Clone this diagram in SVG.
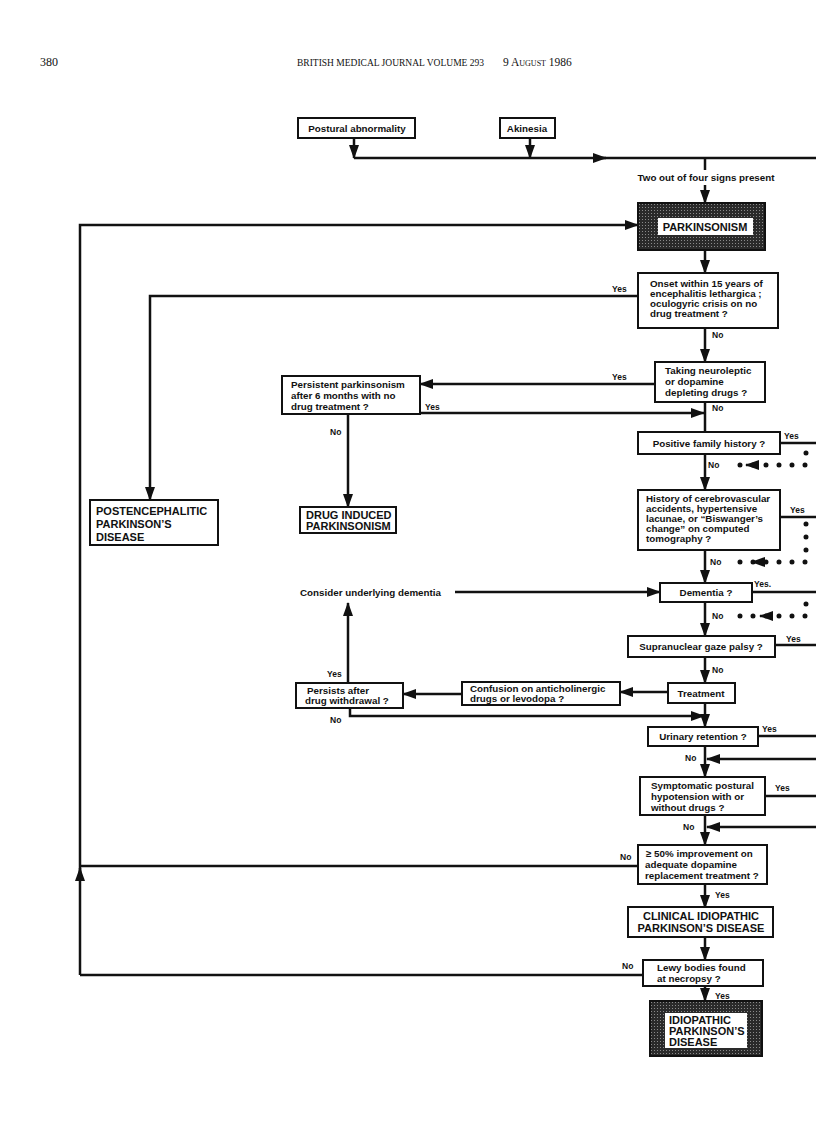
<svg xmlns="http://www.w3.org/2000/svg" width="816" height="1127" viewBox="0 0 816 1127">
<style>
.bx{fill:#fff;stroke:#111;stroke-width:2}
.t{font-family:"Liberation Sans",Arial,sans-serif;font-weight:bold;font-size:9.8px;fill:#111}
.u{font-size:11px}
.y{font-size:8.5px}
.c{text-anchor:middle}
.h{font-family:"Liberation Serif","Times New Roman",serif;fill:#111}
.ln{fill:none;stroke:#111;stroke-width:2.5}
.ar{fill:none;stroke:#111;stroke-width:2.5;marker-end:url(#ah)}
.dt{fill:none;stroke:#111;stroke-width:5;stroke-linecap:round;stroke-dasharray:0 13}
</style>
<defs>
<marker id="ah" markerUnits="userSpaceOnUse" markerWidth="14" markerHeight="10" refX="13" refY="5" orient="auto">
<path d="M0,0 L14,5 L0,10 z" fill="#111"/>
</marker>
<pattern id="hatch" width="3" height="3" patternUnits="userSpaceOnUse">
<rect width="3" height="3" fill="#2a2a2a"/>
<rect width="1" height="1" fill="#8a8a8a"/>
</pattern>
</defs>
<rect width="816" height="1127" fill="#fff"/>
<g id="header">
<text class="h" x="40" y="66" font-size="12">380</text>
<text class="h" x="297" y="66" font-size="9.5">BRITISH MEDICAL JOURNAL   VOLUME 293</text>
<text class="h" x="503" y="66" font-size="11.5" font-variant="small-caps">9 August 1986</text>
</g>
<g id="connectors">
<path class="ar" d="M354,138 V158"/>
<path class="ar" d="M530,138 V158"/>
<path class="ar" d="M354,158 H606"/>
<path class="ln" d="M600,158 H816"/>
<path class="ln" d="M705,158 V170"/>
<path class="ar" d="M705,185 V203"/>
<path class="ar" d="M80,975 V868"/>
<path class="ar" d="M80,878 V225 H638"/>
<path class="ln" d="M638,866 H80"/>
<path class="ar" d="M705,250 V273"/>
<path class="ar" d="M638,296 H150 V500"/>
<path class="ar" d="M705,328 V362"/>
<path class="ar" d="M655,384 H420"/>
<path class="ar" d="M420,413 H704"/>
<path class="ln" d="M705,402 V432"/>
<path class="ar" d="M348,414 V507"/>
<path class="ln" d="M780,443 H816"/>
<path class="ar" d="M705,454 V490"/>
<path class="dt" d="M806,453 V465 H732"/>
<path class="ar" d="M758,465 H746"/>
<path class="ln" d="M780,517 H816"/>
<path class="dt" d="M806,524 V562 H732"/>
<path class="ar" d="M764,562 H752"/>
<path class="ar" d="M705,550 V583"/>
<path class="ar" d="M455,592 H660"/>
<path class="ln" d="M752,592 H816"/>
<path class="ar" d="M705,602 V636"/>
<path class="dt" d="M806,604 V616 H732"/>
<path class="ar" d="M772,616 H760"/>
<path class="ln" d="M775,645 H816"/>
<path class="ar" d="M705,657 V683"/>
<path class="ar" d="M668,692 H620"/>
<path class="ar" d="M462,694 H403"/>
<path class="ar" d="M348,683 V603"/>
<path class="ar" d="M350,708 V716 H704"/>
<path class="ar" d="M705,703 V727"/>
<path class="ln" d="M757,736 H816"/>
<path class="ar" d="M705,746 V777"/>
<path class="ar" d="M816,759 H707"/>
<path class="ln" d="M765,796 H816"/>
<path class="ar" d="M705,815 V845"/>
<path class="ar" d="M816,827 H707"/>
<path class="ar" d="M705,884 V908"/>
<path class="ar" d="M705,937 V960"/>
<path class="ln" d="M643,975 H80"/>
<path class="ar" d="M705,986 V1001"/>
</g>
<g id="labels">
<text class="t c" x="706" y="181" font-size="10.3">Two out of four signs present</text>
<text class="t y" x="612" y="292">Yes</text>
<text class="t y" x="712" y="338">No</text>
<text class="t y" x="612" y="380">Yes</text>
<text class="t y" x="425" y="410">Yes</text>
<text class="t y" x="712" y="411">No</text>
<text class="t y" x="330" y="435">No</text>
<text class="t y" x="784" y="439">Yes</text>
<text class="t y" x="708" y="468">No</text>
<text class="t y" x="790" y="513">Yes</text>
<text class="t y" x="710" y="565">No</text>
<text class="t y" x="754" y="587">Yes.</text>
<text class="t y" x="712" y="619">No</text>
<text class="t y" x="786" y="642">Yes</text>
<text class="t y" x="712" y="673">No</text>
<text class="t y" x="327" y="677">Yes</text>
<text class="t y" x="330" y="723">No</text>
<text class="t y" x="762" y="732">Yes</text>
<text class="t y" x="685" y="761">No</text>
<text class="t y" x="775" y="791">Yes</text>
<text class="t y" x="683" y="830">No</text>
<text class="t y" x="620" y="860">No</text>
<text class="t y" x="715" y="898">Yes</text>
<text class="t y" x="622" y="969">No</text>
<text class="t y" x="715" y="999">Yes</text>
</g>
<g id="n-postural"><rect class="bx" x="298" y="118" width="117" height="20"/><text class="t c" x="357" y="132" font-size="10">Postural abnormality</text></g>
<g id="n-akinesia"><rect class="bx" x="500" y="118" width="55" height="20"/><text class="t c" x="527" y="132">Akinesia</text></g>
<g id="n-parkinsonism"><rect x="638" y="203" width="127" height="47" fill="url(#hatch)" stroke="#111" stroke-width="2"/><rect x="658" y="218" width="95" height="17" fill="#fff"/><text class="t c u" x="705" y="231">PARKINSONISM</text></g>
<g id="n-onset"><rect class="bx" x="638" y="273" width="140" height="55"/><text class="t" x="650" y="287">Onset within 15 years of</text><text class="t" x="650" y="297">encephalitis lethargica ;</text><text class="t" x="650" y="307">oculogyric crisis on no</text><text class="t" x="650" y="317">drug treatment ?</text></g>
<g id="n-taking"><rect class="bx" x="655" y="362" width="110" height="40"/><text class="t" x="665" y="374" font-size="9.3">Taking neuroleptic</text><text class="t" x="665" y="385" font-size="9.3">or dopamine</text><text class="t" x="665" y="396" font-size="9.3">depleting drugs ?</text></g>
<g id="n-persistent"><rect class="bx" x="282" y="376" width="138" height="38"/><text class="t" x="291" y="388">Persistent parkinsonism</text><text class="t" x="291" y="399">after 6 months with no</text><text class="t" x="291" y="410">drug treatment ?</text></g>
<g id="n-postenc"><rect class="bx" x="90" y="500" width="128" height="45"/><text class="t u" x="96" y="515">POSTENCEPHALITIC</text><text class="t u" x="96" y="528">PARKINSON’S</text><text class="t u" x="96" y="541">DISEASE</text></g>
<g id="n-druginduced"><rect class="bx" x="300" y="507" width="96" height="26"/><text class="t u" x="306" y="519">DRUG INDUCED</text><text class="t u" x="306" y="530">PARKINSONISM</text></g>
<g id="n-family"><rect class="bx" x="638" y="432" width="142" height="22"/><text class="t c" x="709" y="447">Positive family history ?</text></g>
<g id="n-history"><rect class="bx" x="638" y="490" width="142" height="60"/><text class="t" x="646" y="502">History of cerebrovascular</text><text class="t" x="646" y="512">accidents, hypertensive</text><text class="t" x="646" y="522">lacunae, or “Biswanger’s</text><text class="t" x="646" y="532">change” on computed</text><text class="t" x="646" y="542">tomography ?</text></g>
<g id="n-consider"><text class="t" x="300" y="596">Consider underlying dementia</text></g>
<g id="n-dementia"><rect class="bx" x="660" y="583" width="92" height="19"/><text class="t c" x="706" y="596">Dementia ?</text></g>
<g id="n-supranuclear"><rect class="bx" x="628" y="636" width="147" height="21"/><text class="t c" x="701" y="650">Supranuclear gaze palsy ?</text></g>
<g id="n-treatment"><rect class="bx" x="668" y="683" width="67" height="20"/><text class="t c" x="701" y="697">Treatment</text></g>
<g id="n-confusion"><rect class="bx" x="462" y="682" width="158" height="23"/><text class="t" x="470" y="692">Confusion on anticholinergic</text><text class="t" x="470" y="702">drugs or levodopa ?</text></g>
<g id="n-persists"><rect class="bx" x="296" y="683" width="107" height="25"/><text class="t" x="307" y="694">Persists after</text><text class="t" x="305" y="704">drug withdrawal ?</text></g>
<g id="n-urinary"><rect class="bx" x="648" y="727" width="110" height="19"/><text class="t c" x="703" y="740">Urinary retention ?</text></g>
<g id="n-symptomatic"><rect class="bx" x="640" y="777" width="125" height="38"/><text class="t" x="651" y="789">Symptomatic postural</text><text class="t" x="651" y="800">hypotension with or</text><text class="t" x="651" y="811">without drugs ?</text></g>
<g id="n-improvement"><rect class="bx" x="638" y="845" width="129" height="39"/><text class="t" x="646" y="857">≥ 50% improvement on</text><text class="t" x="645" y="868">adequate dopamine</text><text class="t" x="645" y="879">replacement treatment ?</text></g>
<g id="n-clinical"><rect class="bx" x="628" y="907" width="145" height="30"/><text class="t c u" x="701" y="920">CLINICAL IDIOPATHIC</text><text class="t c u" x="701" y="932">PARKINSON’S DISEASE</text></g>
<g id="n-lewy"><rect class="bx" x="643" y="960" width="120" height="26"/><text class="t" x="657" y="971">Lewy bodies found</text><text class="t" x="657" y="982">at necropsy ?</text></g>
<g id="n-idiopathic"><rect x="650" y="1001" width="112" height="55" fill="url(#hatch)" stroke="#111" stroke-width="2"/><rect x="665" y="1013" width="82" height="35" fill="#fff"/><text class="t u" x="669" y="1024">IDIOPATHIC</text><text class="t u" x="669" y="1035">PARKINSON’S</text><text class="t u" x="669" y="1046">DISEASE</text></g>
</svg>
